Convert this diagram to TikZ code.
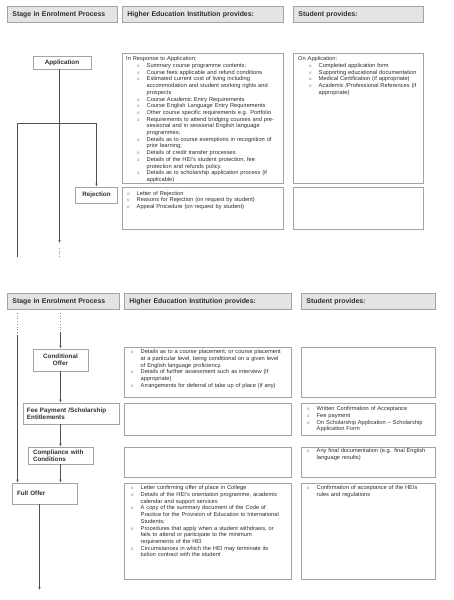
\documentclass[tikz,border=0pt]{standalone}
\usepackage{fontspec}
\setmainfont{Liberation Sans}
\usetikzlibrary{arrows.meta}
\definecolor{linec}{HTML}{505050}
\definecolor{boxc}{HTML}{A4A4A4}
\definecolor{hdrfill}{HTML}{E5E3E3}
\definecolor{txtc}{HTML}{2E2E2E}
\newcommand\bi[1]{\hspace*{#1}\makebox[9.5pt][l]{\textcolor{gray}{\fontsize{4.5}{4.5}\selectfont o}}}
\newcommand\ct[1]{\hspace*{#1}}
\begin{document}
\begin{tikzpicture}[x=1pt,y=-1pt,
  hdr/.style={draw=boxc, fill=hdrfill, line width=0.9pt, inner ysep=0pt, inner xsep=5pt, minimum height=16pt, anchor=north west, align=left, font=\fontsize{6.9}{8}\selectfont\bfseries, text=txtc},
  cbox/.style={draw=boxc, line width=0.7pt, inner sep=0pt, anchor=north west, fill=white},
  stg/.style={draw=boxc, line width=0.7pt, inner sep=0pt, font=\fontsize{6.3}{7.4}\selectfont\bfseries, text=txtc, align=center},
  body/.style={inner sep=0pt, anchor=north west, align=left, text width=175pt, font=\fontsize{5.7}{6.7}\selectfont, text=txtc},
  conn/.style={draw=linec, line width=0.8pt},
  arr/.style={conn, -{Latex[length=3pt,width=2.4pt]}},
  dots/.style={draw=linec!60, line width=0.7pt, dotted}
]
\useasboundingbox (0,0) rectangle (454,600);

% headers
\node[hdr, text width=100pt] (hA) at (7,6) {Stage in Enrolment Process};
\node[hdr, text width=151pt] (hB) at (122,6) {Higher Education Institution provides:};
\node[hdr, text width=120pt] (hC) at (293,6) {Student provides:};
\node[hdr, text width=102pt] (hD) at (7,293) {Stage in Enrolment Process};
\node[hdr, text width=157pt] (hE) at (124,293) {Higher Education Institution provides:};
\node[hdr, text width=124pt] (hF) at (301,293) {Student provides:};

% content boxes
\node[cbox, minimum width=161pt, minimum height=130pt] (b1) at (122,53) {};
\node[cbox, minimum width=130pt, minimum height=130pt] (s1) at (293,53) {};
\node[cbox, minimum width=161pt, minimum height=42pt] (b2) at (122,187) {};
\node[cbox, minimum width=130pt, minimum height=42pt] (s2) at (293,187) {};
\node[cbox, minimum width=167pt, minimum height=50pt] (b3) at (124,347) {};
\node[cbox, minimum width=134pt, minimum height=50pt] (s3) at (301,347) {};
\node[cbox, minimum width=167pt, minimum height=32pt] (b4) at (124,403) {};
\node[cbox, minimum width=134pt, minimum height=32pt] (s4) at (301,403) {};
\node[cbox, minimum width=167pt, minimum height=30pt] (b5) at (124,447) {};
\node[cbox, minimum width=134pt, minimum height=30pt] (s5) at (301,447) {};
\node[cbox, minimum width=167pt, minimum height=96pt] (b6) at (124,483) {};
\node[cbox, minimum width=134pt, minimum height=96pt] (s6) at (301,483) {};

% stage nodes
\node[stg, minimum width=58pt, minimum height=13pt] (app) at (62,62.5) {Application};
\node[stg, minimum width=42pt, minimum height=16pt] (rej) at (96.5,195) {Rejection};
\node[stg, minimum width=55pt, minimum height=22pt] (cond) at (60.5,360) {Conditional\\Offer};
\node[stg, align=left, text width=88pt, inner xsep=4pt, minimum height=21pt] (fee) at (71,413.5) {Fee Payment /Scholarship\\Entitlements};
\node[stg, align=left, text width=55pt, inner xsep=5pt, minimum height=17pt] (comp) at (60.5,455.5) {Compliance with\\Conditions};
\node[stg, align=left, text width=55pt, inner xsep=5pt, minimum height=21pt] (full) at (44.5,493.5) {Full Offer};

% body texts
\node[body] (t1) at (126,56.5) {In Response to Application:\\
\bi{11pt}Summary course programme contents;\\
\bi{11pt}Course fees applicable and refund conditions\\
\bi{11pt}Estimated current cost of living including\\
\ct{20.5pt}accommodation and student working rights and\\
\ct{20.5pt}prospects\\
\bi{11pt}Course Academic Entry Requirements\\
\bi{11pt}Course English Language Entry Requirements\\
\bi{11pt}Other course specific requirements e.g. Portfolio\\
\bi{11pt}Requirements to attend bridging courses and pre-\\
\ct{20.5pt}sessional and in sessional English language\\
\ct{20.5pt}programmes;\\
\bi{11pt}Details as to course exemptions in recognition of\\
\ct{20.5pt}prior learning;\\
\bi{11pt}Details of credit transfer processes\\
\bi{11pt}Details of the HEI's student protection, fee\\
\ct{20.5pt}protection and refunds policy.\\
\bi{11pt}Details as to scholarship application process (if\\
\ct{20.5pt}applicable)};

\node[body] (u1) at (298,56.5) {On Application:\\
\bi{11pt}Completed application form\\
\bi{11pt}Supporting educational documentation\\
\bi{11pt}Medical Certification (if appropriate)\\
\bi{11pt}Academic /Professional References (if\\
\ct{20.5pt}appropriate)};

\node[body] (t2) at (127,190.8) {\bi{0pt}Letter of Rejection\\
\bi{0pt}Reasons for Rejection (on request by student)\\
\bi{0pt}Appeal Procedure (on request by student)};

\node[body] (t3) at (131,349.5) {\bi{0pt}Details as to a course placement, or course placement\\
\ct{9.5pt}at a particular level, being conditional on a given level\\
\ct{9.5pt}of English language proficiency.\\
\bi{0pt}Details of further assessment such as interview (if\\
\ct{9.5pt}appropriate)\\
\bi{0pt}Arrangements for deferral of take up of place (if any)};

\node[body] (u4) at (307,406.5) {\bi{0pt}Written Confirmation of Acceptance\\
\bi{0pt}Fee payment\\
\bi{0pt}On Scholarship Application -- Scholarship\\
\ct{9.5pt}Application Form};

\node[body] (u5) at (307,448.5) {\bi{0pt}Any final documentation (e.g. final English\\
\ct{9.5pt}language results)};

\node[body] (t6) at (131,485.5) {\bi{0pt}Letter confirming offer of place in College\\
\bi{0pt}Details of the HEI's orientation programme, academic\\
\ct{9.5pt}calendar and support services\\
\bi{0pt}A copy of the summary document of the Code of\\
\ct{9.5pt}Practice for the Provision of Education to International\\
\ct{9.5pt}Students;\\
\bi{0pt}Procedures that apply when a student withdraws, or\\
\ct{9.5pt}fails to attend or participate to the minimum\\
\ct{9.5pt}requirements of the HEI\\
\bi{0pt}Circumstances in which the HEI may terminate its\\
\ct{9.5pt}tuition contract with the student};

\node[body] (u6) at (307,485.5) {\bi{0pt}Confirmation of acceptance of the HEIs\\
\ct{9.5pt}rules and regulations};

% connectors, first part
\coordinate (mStart) at (59.5,69);
\coordinate (mEnd) at (59.5,243);
\coordinate (mDa) at (59.5,248);
\coordinate (mDb) at (59.5,258);
\coordinate (brL) at (17.5,123.5);
\coordinate (brR) at (96.5,123.5);
\coordinate (lEnd) at (17.5,257);
\draw[arr] (mStart) -- (mEnd);
\draw[dots] (mDa) -- (mDb);
\draw[conn] (lEnd) -- (brL) -- (brR);
\draw[arr] (brR) -- (rej.north);

% connectors, second part
\coordinate (d1a) at (17.5,313);
\coordinate (d1b) at (17.5,335);
\coordinate (d2a) at (60.5,313);
\coordinate (d2b) at (60.5,332);
\draw[dots] (d1a) -- (d1b);
\draw[arr] (d1b) -- (d1b |- full.north);
\draw[dots] (d2a) -- (d2b);
\draw[arr] (d2b) -- (cond.north);
\draw[arr] (cond.south) -- (cond.south |- fee.north);
\draw[arr] (cond.south |- fee.south) -- (comp.north);
\draw[arr] (comp.south) -- (comp.south |- full.north);
\coordinate (fo) at (39.5,590);
\draw[arr] (full.south -| fo) -- (fo);
\end{tikzpicture}
\end{document}
